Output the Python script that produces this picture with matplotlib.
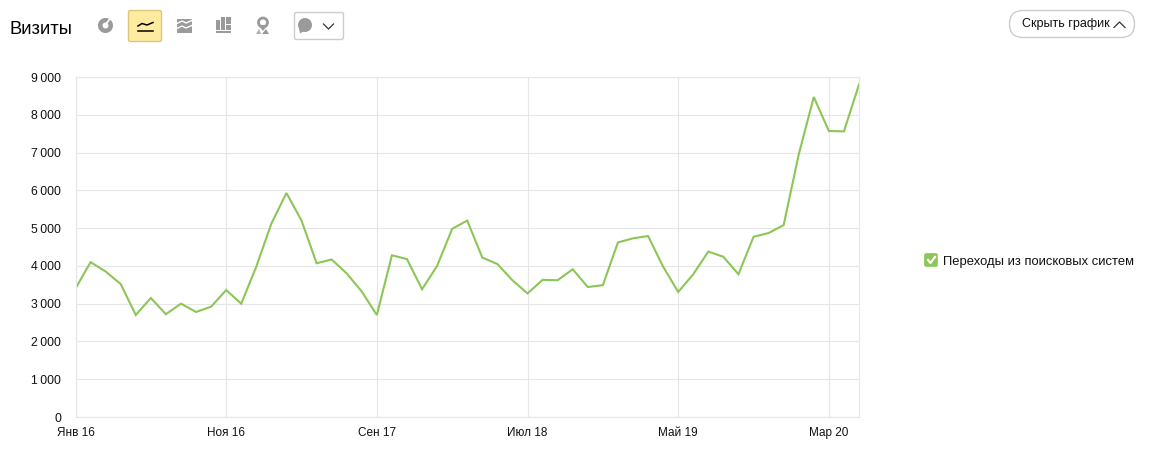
#!/usr/bin/env python3
import matplotlib
matplotlib.use("Agg")
import matplotlib.pyplot as plt
from matplotlib.patches import Circle, FancyBboxPatch, Polygon, Rectangle, Wedge

W, H = 1152, 458

# monthly visits, Jan 2016 .. May 2020
visits = [3400, 4100, 3850, 3520, 2700, 3150, 2720, 3000, 2780, 2920,
          3360, 3000, 3980, 5120, 5930, 5200, 4070, 4170, 3800, 3320,
          2700, 4280, 4180, 3380, 4000, 4980, 5200, 4220, 4050, 3620,
          3270, 3630, 3620, 3910, 3440, 3490, 4620, 4730, 4790, 3980,
          3310, 3780, 4380, 4240, 3780, 4770, 4870, 5080, 6950, 8470,
          7570, 7560, 8800]
x_ticks = [0, 10, 20, 30, 40, 50]
x_labels = ["Янв 16", "Ноя 16", "Сен 17", "Июл 18", "Май 19", "Мар 20"]
y_ticks = [0, 1000, 2000, 3000, 4000, 5000, 6000, 7000, 8000, 9000]
y_labels = ["0", "1\u2009000", "2\u2009000", "3\u2009000", "4\u2009000",
            "5\u2009000", "6\u2009000", "7\u2009000", "8\u2009000", "9\u2009000"]
title = "Визиты"
button = "Скрыть график"
legend = "Переходы из поисковых систем"

GREEN = "#8cc657"
GRID = "#e6e6e6"
ICON = "#9a9a9a"

plt.rcParams["font.family"] = ["Liberation Sans", "DejaVu Sans"]
fig = plt.figure(figsize=(W / 100, H / 100), dpi=100)

# main chart
ax = fig.add_axes([75.5 / W, 1 - 417 / H, (859 - 75.5) / W, (417 - 77) / H])
ax.plot(range(len(visits)), visits, color=GREEN, lw=1.5, solid_joinstyle="miter")
ax.set_xlim(0, len(visits) - 1)
ax.set_ylim(0, 9000)
ax.set_xticks(x_ticks, x_labels)
ax.set_yticks(y_ticks, y_labels)
ax.grid(True, color=GRID, lw=0.8)
ax.set_axisbelow(True)
for s in ax.spines.values():
    s.set_color(GRID)
    s.set_linewidth(0.8)
ax.tick_params(axis="x", length=0, pad=7.5, labelsize=8.5, labelcolor="#111111")
ax.tick_params(axis="y", length=0, pad=10.5, labelsize=8.8, labelcolor="#111111")

# header and legend drawn on a pixel overlay
ui = fig.add_axes([0, 0, 1, 1], facecolor="none")
ui.set_xlim(0, W)
ui.set_ylim(H, 0)
ui.axis("off")

ui.text(9.5, 29, title, fontsize=13.2, color="black", va="center", ha="left")

# pie icon
ui.add_patch(Wedge((105.5, 25.5), 7.5, 0, 360, width=4.5, color=ICON, lw=0))
ui.plot([105, 110], [25, 19], color="white", lw=1.2)

# active line icon
ui.add_patch(FancyBboxPatch((128.5, 10.5), 33, 31, boxstyle="round,pad=0,rounding_size=2",
                            fc="#ffeba0", ec="#d9c77f", lw=1))
ui.plot([138, 142, 147, 153], [26, 23.5, 25, 22.5], color="black", lw=1.1)
ui.plot([138, 153], [31, 31], color="black", lw=1.1)

# stacked area icon
ui.add_patch(Rectangle((177, 19), 15, 14, color=ICON, lw=0))
for dy in (0, 5):
    ui.plot([176, 182, 186, 193], [24 + dy, 21 + dy, 23 + dy, 20 + dy], color="white", lw=1)

# bars icon
ui.add_patch(Rectangle((216, 17), 15, 13, color=ICON, lw=0))
ui.add_patch(Rectangle((216, 17), 4, 3, color="white", lw=0))
ui.add_patch(Rectangle((220, 17), 1, 13, color="white", lw=0))
ui.add_patch(Rectangle((225, 17), 1, 13, color="white", lw=0))
ui.add_patch(Rectangle((226, 24), 5, 1, color="white", lw=0))
ui.add_patch(Rectangle((216, 31), 15, 2, color=ICON, lw=0))

# map pin icon
ui.add_patch(Circle((263, 22.5), 4.5, fc="white", ec=ICON, lw=2))
ui.add_patch(Polygon([[258.5, 25], [267.5, 25], [263, 31]], color=ICON, lw=0))
ui.add_patch(Circle((263, 22.5), 2, color="white", lw=0))
ui.add_patch(Polygon([[256, 34], [259, 29], [261, 34]], color="#b0b0b0", lw=0))
ui.add_patch(Polygon([[262, 34], [266, 29], [269, 34]], color=ICON, lw=0))

# comment dropdown
ui.add_patch(FancyBboxPatch((294.5, 12.5), 49, 27, boxstyle="round,pad=0,rounding_size=2",
                            fc="white", ec="#cccccc", lw=1))
ui.add_patch(Circle((305, 25), 7, color=ICON, lw=0))
ui.add_patch(Polygon([[299, 28], [304, 31], [300, 33.5]], color=ICON, lw=0))
ui.plot([323.5, 328.5, 333.5], [24, 29, 24], color="#333333", lw=0.9)

# hide button
ui.add_patch(FancyBboxPatch((1009.5, 10.5), 125, 27, boxstyle="round,pad=0,rounding_size=13.5",
                            fc="white", ec="#cccccc", lw=1))
ui.text(1022, 24.5, button, fontsize=9.0, color="#111111", va="center", ha="left")
ui.plot([1114, 1119.5, 1125], [27.5, 22, 27.5], color="#333333", lw=0.9)

# legend
ui.add_patch(FancyBboxPatch((924.5, 253.5), 13, 13, boxstyle="round,pad=0,rounding_size=2",
                            fc=GREEN, ec=GREEN, lw=0.5))
ui.plot([928, 930.5, 935], [260, 263, 257], color="white", lw=1.6)
ui.text(943, 261.5, legend, fontsize=9.4, color="#111111", va="center", ha="left")

fig.savefig("out.png", dpi=100)
